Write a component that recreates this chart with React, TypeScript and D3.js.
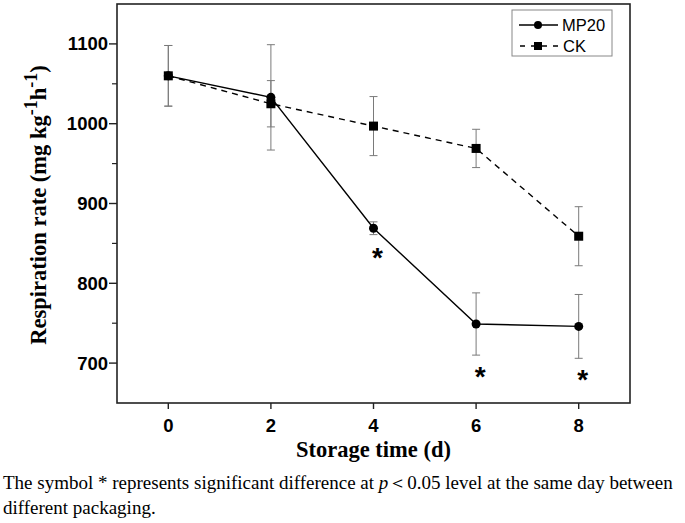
import React from "react";
import * as d3 from "d3";

const days = [0, 2, 4, 6, 8];
const mp20 = [1060, 1033, 869, 749, 746];
const mp20Err = [38, 66, 8, 39, 40];
const ck = [1060, 1025, 997, 969, 859];
const ckErr = [38, 29, 37, 24, 37];
const sigDays = [4, 6, 8];
const sigY = [841, 691, 687];
const yTicks = [700, 800, 900, 1000, 1100];
const yMinor = [750, 850, 950, 1050];
const xTicks = [0, 2, 4, 6, 8];

const W = 685, H = 523;
const L = 117, R = 630, T = 4, B = 403;

export default function App() {
  const x = d3.scaleLinear().domain([-1, 9]).range([L, R]);
  const y = d3.scaleLinear().domain([650, 1150]).range([B, T]);
  const line = d3.line<[number, number]>().x(d => x(d[0])).y(d => y(d[1]));
  const mpPts = days.map((d, i) => [d, mp20[i]] as [number, number]);
  const ckPts = days.map((d, i) => [d, ck[i]] as [number, number]);
  const arial = "'Liberation Sans', Arial, sans-serif";
  const times = "'Liberation Serif', 'Times New Roman', serif";
  const errColor = "#7a7a7a";
  const errBars = (vals: number[], errs: number[], key: string) =>
    days.map((d, i) => {
      const cx = x(d), y1 = y(vals[i] + errs[i]), y2 = y(vals[i] - errs[i]);
      return (
        <g key={key + i} stroke={errColor} strokeWidth={1}>
          <line x1={cx} x2={cx} y1={y1} y2={y2} />
          <line x1={cx - 4} x2={cx + 4} y1={y1} y2={y1} />
          <line x1={cx - 4} x2={cx + 4} y1={y2} y2={y2} />
        </g>
      );
    });
  return (
    <svg width={W} height={H} style={{ position: "absolute", left: 0, top: 0, background: "#fff" }}>
      <rect x={0} y={0} width={W} height={H} fill="#fff" />
      {errBars(ck, ckErr, "ck")}
      {errBars(mp20, mp20Err, "mp")}
      <path d={line(ckPts) || ""} fill="none" stroke="#000" strokeWidth={1.4} strokeDasharray="6,5" />
      <path d={line(mpPts) || ""} fill="none" stroke="#000" strokeWidth={1.4} />
      {ckPts.map((p, i) => (
        <rect key={"cks" + i} x={x(p[0]) - 4.5} y={y(p[1]) - 4.5} width={9} height={9} fill="#000" />
      ))}
      {mpPts.map((p, i) => (
        <circle key={"mpc" + i} cx={x(p[0])} cy={y(p[1])} r={4.5} fill="#000" />
      ))}
      {sigDays.map((d, i) => (
        <text key={"sig" + i} x={x(d) + 4} y={y(sigY[i]) + 16} fontFamily={arial} fontWeight="bold" fontSize={28} textAnchor="middle">*</text>
      ))}
      {/* frame */}
      <rect x={L} y={T} width={R - L} height={B - T} fill="none" stroke="#222" strokeWidth={1.6} />
      {/* y ticks */}
      {yTicks.map(t => (
        <g key={"yt" + t}>
          <line x1={L - 8} x2={L} y1={y(t)} y2={y(t)} stroke="#222" strokeWidth={1.4} />
          <text x={L - 9} y={y(t) + 6.5} textAnchor="end" fontFamily={arial} fontWeight="bold" fontSize={18.5}>{t}</text>
        </g>
      ))}
      {yMinor.map(t => (
        <line key={"ym" + t} x1={L - 5} x2={L} y1={y(t)} y2={y(t)} stroke="#222" strokeWidth={1.2} />
      ))}
      {xTicks.map(t => (
        <g key={"xt" + t}>
          <line x1={x(t)} x2={x(t)} y1={B} y2={B + 6} stroke="#222" strokeWidth={1.4} />
          <text x={x(t)} y={B + 29} textAnchor="middle" fontFamily={arial} fontWeight="bold" fontSize={18.5}>{t}</text>
        </g>
      ))}
      <text x={(L + R) / 2} y={457} textAnchor="middle" fontFamily={times} fontWeight="bold" fontSize={22.5}>Storage time (d)</text>
      <text transform={`translate(46,${205}) rotate(-90)`} textAnchor="middle" fontFamily={times} fontWeight="bold" fontSize={22.5}>
        Respiration rate (mg kg<tspan dy={-9} fontSize={18}>-1</tspan><tspan dy={9}>h</tspan><tspan dy={-9} fontSize={18}>-1</tspan><tspan dy={9}>)</tspan>
      </text>
      {/* legend */}
      <rect x={512} y={10} width={100} height={46} fill="#fff" stroke="#888" strokeWidth={1} />
      <line x1={519} x2={558} y1={25} y2={25} stroke="#000" strokeWidth={1.4} />
      <circle cx={538} cy={25} r={4} fill="#000" />
      <line x1={519} x2={558} y1={46} y2={46} stroke="#000" strokeWidth={1.4} strokeDasharray="5,6" strokeDashoffset={-1} />
      <rect x={534} y={42} width={8} height={8} fill="#000" />
      <text x={562} y={31} fontFamily={arial} fontSize={16.5}>MP20</text>
      <text x={563} y={52} fontFamily={arial} fontSize={16.5}>CK</text>
      {/* caption */}
      <text x={3} y={489} fontFamily={times} fontSize={19}>
        The symbol * represents significant difference at <tspan fontStyle="italic">p</tspan>＜0.05 level at the same day between
      </text>
      <text x={3} y={514} fontFamily={times} fontSize={19}>different packaging.</text>
    </svg>
  );
}
